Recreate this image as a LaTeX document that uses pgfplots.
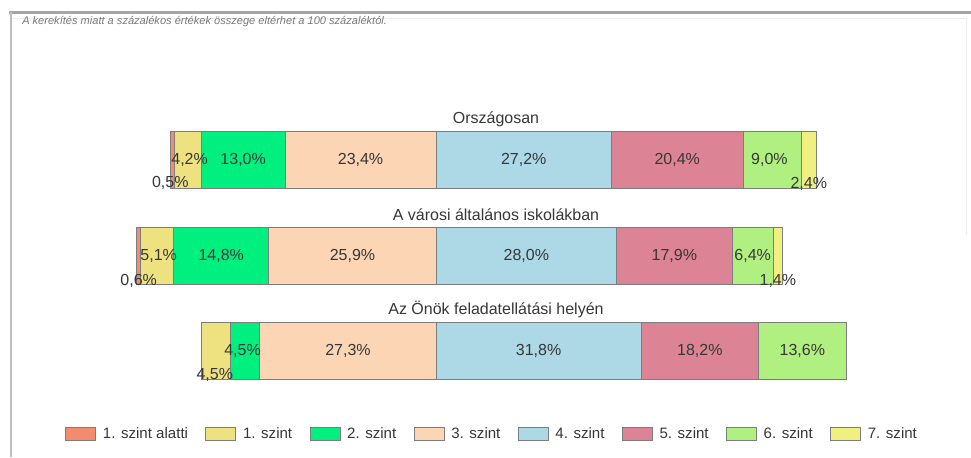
\documentclass[border=0pt]{standalone}
\usepackage{fontspec}
\setmainfont{Liberation Sans}
\usepackage{pgfplots}
\pgfplotsset{compat=1.18}
\usepackage{pgfplotstable}

\definecolor{c0}{RGB}{242,140,108}
\definecolor{c1}{RGB}{238,226,128}
\definecolor{c2}{RGB}{0,240,128}
\definecolor{c3}{RGB}{252,213,181}
\definecolor{c4}{RGB}{173,216,230}
\definecolor{c5}{RGB}{220,132,150}
\definecolor{c6}{RGB}{176,240,128}
\definecolor{c7}{RGB}{240,240,128}
\definecolor{bord}{RGB}{125,125,125}
\definecolor{txt}{RGB}{55,55,55}

\tikzset{lab/.style={font=\fontsize{12}{14}\selectfont, text=txt, inner sep=0pt}}

% off = 60 - (sum of levels below 4. szint): puts the 3./4. boundary at x=60
\pgfplotstableread{
y off l0 l1 l2 l3 l4 l5 l6 l7
0 23.7 0 4.5 4.5 27.3 31.8 18.2 13.6 0
1 13.6 0.6 5.1 14.8 25.9 28.0 17.9 6.4 1.4
2 18.9 0.5 4.2 13.0 23.4 27.2 20.4 9.0 2.4
}\data

\newcommand\barlabels{%
% titles
\node[lab] at (axis cs:69.3,2) [yshift=30.75pt] {Országosan};
\node[lab] at (axis cs:69.3,1) [yshift=30.75pt] {A városi általános iskolákban};
\node[lab] at (axis cs:69.3,0) [yshift=31.5pt] {Az Önök feladatellátási helyén};
% labels: Országosan
\node[lab, yshift=-17pt] at (axis cs:18.8,2) {0,5\%};
\node[lab] at (axis cs:21.8,2) {4,2\%};
\node[lab] at (axis cs:30.1,2) {13,0\%};
\node[lab] at (axis cs:48.3,2) {23,4\%};
\node[lab] at (axis cs:73.6,2) {27,2\%};
\node[lab] at (axis cs:97.4,2) {20,4\%};
\node[lab] at (axis cs:111.7,2) {9,0\%};
\node[lab, yshift=-18pt] at (axis cs:117.8,2) {2,4\%};
% labels: városi
\node[lab, yshift=-19pt] at (axis cs:13.9,1) {0,6\%};
\node[lab] at (axis cs:17.0,1) {5,1\%};
\node[lab] at (axis cs:26.7,1) {14,8\%};
\node[lab] at (axis cs:47.05,1) {25,9\%};
\node[lab] at (axis cs:74.0,1) {28,0\%};
\node[lab] at (axis cs:96.95,1) {17,9\%};
\node[lab] at (axis cs:109.1,1) {6,4\%};
\node[lab, yshift=-19pt] at (axis cs:113.0,1) {1,4\%};
% labels: Önök
\node[lab, yshift=-18pt] at (axis cs:25.7,0) {4,5\%};
\node[lab] at (axis cs:30.0,0) {4,5\%};
\node[lab] at (axis cs:46.35,0) {27,3\%};
\node[lab] at (axis cs:75.9,0) {31,8\%};
\node[lab] at (axis cs:100.9,0) {18,2\%};
\node[lab] at (axis cs:116.8,0) {13,6\%};
}

\begin{document}
\begin{tikzpicture}
\useasboundingbox (0,0) rectangle (728.25pt,-342.75pt);
\fill[white] (0,0) rectangle (728.25pt,-342.75pt);
% frame
\draw[line width=2.25pt, color={rgb,255:red,165;green,165;blue,165}] (7pt,-9pt) -- (728.25pt,-9pt);
\draw[line width=1.5pt, color={rgb,255:red,190;green,190;blue,190}] (8pt,-9pt) -- (8pt,-342.75pt);
\draw[line width=0.6pt, color={rgb,255:red,238;green,238;blue,238}] (9pt,-14pt) -- (724.5pt,-14pt) -- (724.5pt,-176pt);
\node[anchor=west, inner sep=0pt, font=\fontsize{8.3}{10}\selectfont\itshape, text={rgb,255:red,120;green,120;blue,120}] at (16.5pt,-16.5pt) {A kerekítés miatt a százalékos értékek összege eltérhet a 100 százaléktól.};

\begin{axis}[
  at={(36.75pt,-334.875pt)}, anchor=south west,
  scale only axis, width=677.25pt, height=286.5pt,
  xmin=0, xmax=140, ymin=-1, ymax=3,
  axis lines=none, clip=false,
  xbar stacked, bar width=42.75pt,
  legend columns=8,
  legend style={at={(0.0177,0.0327)}, anchor=west, draw=none, fill=none, inner sep=0pt,
    font=\fontsize{11.3}{13}\selectfont, text=txt,
    /tikz/every even column/.append style={column sep=11pt}},
  legend image code/.code={\draw[#1, draw=bord, line width=0.75pt] (0pt,-5pt) rectangle (22.5pt,5pt); \path (25.5pt,0pt);},
  every axis plot/.append style={draw=bord, line width=0.75pt},
  after end axis/.code={\barlabels},
]
\addplot[draw=none, fill=none] table[x=off, y=y] {\data};
\addplot[fill=c0] table[x=l0, y=y] {\data};
\addplot[fill=c1] table[x=l1, y=y] {\data};
\addplot[fill=c2] table[x=l2, y=y] {\data};
\addplot[fill=c3] table[x=l3, y=y] {\data};
\addplot[fill=c4] table[x=l4, y=y] {\data};
\addplot[fill=c5] table[x=l5, y=y] {\data};
\addplot[fill=c6] table[x=l6, y=y] {\data};
\addplot[fill=c7] table[x=l7, y=y] {\data};
\legend{,1. szint alatti, 1. szint, 2. szint, 3. szint, 4. szint, 5. szint, 6. szint, 7. szint}
\end{axis}
\end{tikzpicture}
\end{document}
